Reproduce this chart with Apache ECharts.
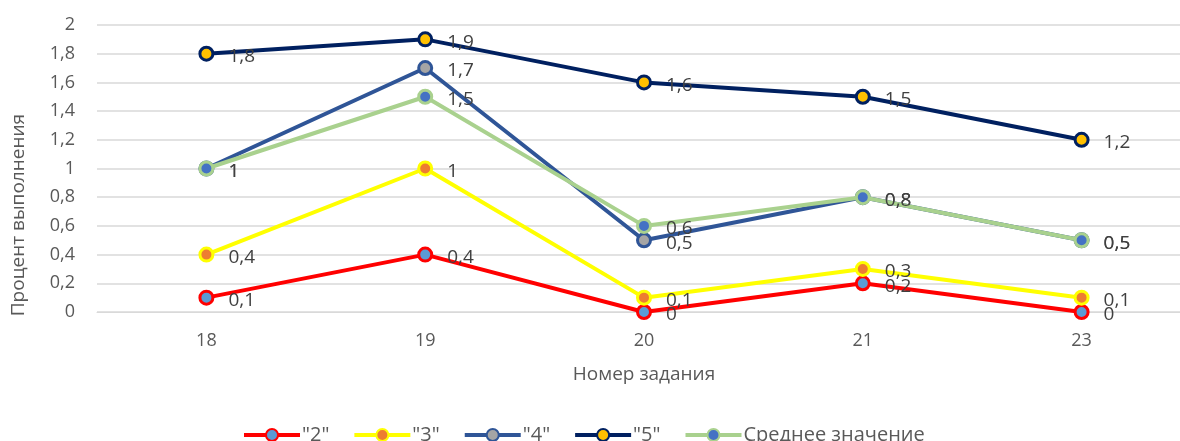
<!DOCTYPE html>
<html><head><meta charset="utf-8">
<script src="https://cdn.jsdelivr.net/npm/echarts@6/dist/echarts.min.js"></script>
<style>html,body{margin:0;padding:0;background:#fff}#c{width:1180px;height:441px}</style>
</head><body><div id="c"></div>
<script>
const categories = ['18', '19', '20', '21', '23'];
const s2 = [0.1, 0.4, 0, 0.2, 0];
const s3 = [0.4, 1, 0.1, 0.3, 0.1];
const s4 = [1, 1.7, 0.5, 0.8, 0.5];
const s5 = [1.8, 1.9, 1.6, 1.5, 1.2];
const sAvg = [1, 1.5, 0.6, 0.8, 0.5];
const yTicks = { min: 0, max: 2, interval: 0.2 };

const FONT = '"Open Sans", "Noto Sans", sans-serif';
const fmt = v => String(Math.round(v * 10) / 10).replace('.', ',');

function mk(name, data, line, fill, z) {
  return {
    name, type: 'line', data, z,
    symbol: 'circle', symbolSize: 13,
    lineStyle: { color: line, width: 4 },
    itemStyle: { color: fill, borderColor: line, borderWidth: 3 },
    label: { show: true, position: 'right', distance: 14, offset: [0, 3],
      formatter: p => fmt(p.value), color: '#404040', fontSize: 19, fontFamily: FONT },
    emphasis: { disabled: true },
    animation: false
  };
}

const chart = echarts.init(document.getElementById('c'));
chart.setOption({
  animation: false,
  grid: { left: 97, top: 25, width: 1094, height: 287, outerBoundsMode: 'none', containLabel: false },
  legend: {
    top: 420, left: 237, itemWidth: 56, itemHeight: 15, itemGap: 23,
    lineStyle: { width: 4 },
    textStyle: { color: '#595959', fontSize: 20, fontFamily: FONT, padding: [0, 0, 0, -3] },
    data: ['"2"', '"3"', '"4"', '"5"', 'Среднее значение']
  },
  xAxis: {
    type: 'category', data: categories,
    name: 'Номер задания', nameLocation: 'middle', nameGap: 53,
    nameTextStyle: { color: '#595959', fontSize: 19, fontFamily: FONT },
    axisLine: { lineStyle: { color: '#d9d9d9' } },
    axisTick: { show: false },
    axisLabel: { color: '#595959', fontSize: 18, fontFamily: FONT, margin: 20 }
  },
  yAxis: {
    type: 'value', min: yTicks.min, max: yTicks.max, interval: yTicks.interval,
    splitLine: { lineStyle: { color: '#d9d9d9', width: 1.5 } },
    axisLine: { show: false }, axisTick: { show: false },
    axisLabel: { color: '#595959', fontSize: 18, fontFamily: FONT, margin: 22, formatter: v => fmt(v) }
  },
  graphic: [{
    type: 'text', left: 9, top: 114, rotation: Math.PI / 2,
    style: { text: 'Процент выполнения', fill: '#595959', fontSize: 19, fontFamily: FONT }
  }],
  series: [
    mk('"2"', s2, '#FF0000', '#5B9BD5', 2),
    mk('"3"', s3, '#FFFF00', '#ED7D31', 3),
    mk('"4"', s4, '#2F5597', '#A5A5A5', 4),
    mk('"5"', s5, '#002060', '#FFC000', 5),
    mk('Среднее значение', sAvg, '#A9D18E', '#4472C4', 6)
  ]
});
</script></body></html>
